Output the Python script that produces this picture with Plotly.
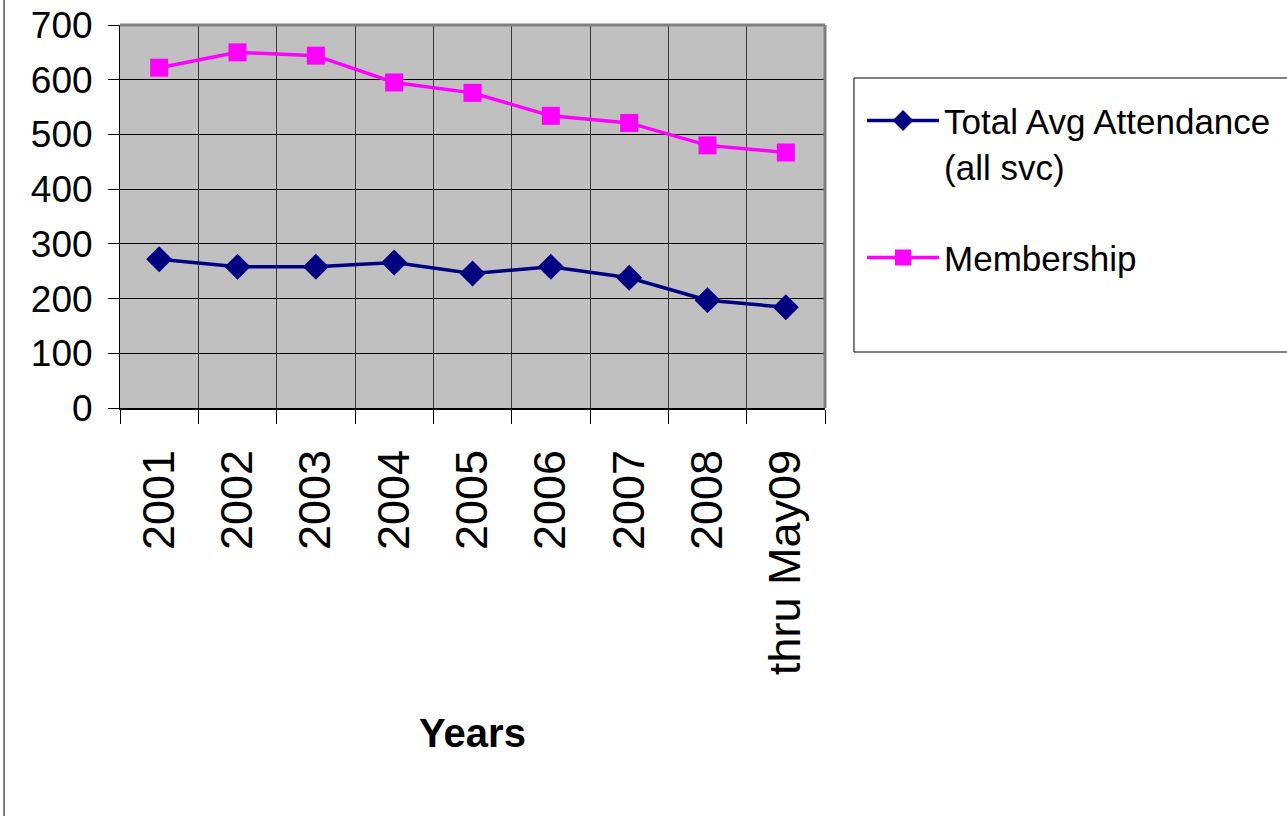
import plotly.graph_objects as go

categories = ["2001", "2002", "2003", "2004", "2005", "2006", "2007", "2008", "thru May09"]
attendance = [272, 258, 258, 266, 246, 258, 238, 197, 184]
membership = [622, 650, 644, 595, 576, 534, 521, 480, 467]
y_ticks = [0, 100, 200, 300, 400, 500, 600, 700]

FONT = "Liberation Sans, Arial, sans-serif"

fig = go.Figure()
fig.add_trace(go.Scatter(
    x=categories, y=attendance, mode="lines+markers",
    name="Total Avg Attendance<br>(all svc)", legendgroup="att",
    line=dict(color="#000080", width=3.5),
    marker=dict(symbol="diamond", size=20, color="#000080"),
))
fig.add_trace(go.Scatter(
    x=categories, y=membership, mode="lines+markers",
    name="Membership", legendgroup="mem",
    line=dict(color="#FF00FF", width=3.5),
    marker=dict(symbol="square", size=18, color="#FF00FF"),
))

fig.update_layout(
    width=1287, height=816,
    margin=dict(l=120, r=462, t=25, b=408, autoexpand=False),
    paper_bgcolor="white",
    plot_bgcolor="#C0C0C0",
    showlegend=True,
    legend=dict(
        x=1.0525, y=0.827, xanchor="left", yanchor="top",
        bgcolor="rgba(0,0,0,0)", borderwidth=0,
        font=dict(family=FONT, size=35, color="black"),
        tracegroupgap=43, itemwidth=72, valign="top",
    ),
    xaxis=dict(
        type="category", range=[-0.5, 8.5], tickson="boundaries",
        showgrid=True, gridcolor="#383838", gridwidth=1,
        ticks="outside", ticklen=14, tickcolor="black",
        tickangle=-90, ticklabelstandoff=22,
        tickfont=dict(family=FONT, size=45, color="black"),
        showline=True, linecolor="black", linewidth=2,
        automargin=False,
        title=dict(text="<b>Years</b>", font=dict(family=FONT, size=40, color="black"), standoff=45),
    ),
    yaxis=dict(
        range=[0, 700], tickvals=y_ticks,
        showgrid=True, gridcolor="black", gridwidth=1,
        ticks="outside", ticklen=11, tickcolor="black",
        ticklabelstandoff=8,
        tickfont=dict(family=FONT, size=37, color="black"),
        showline=True, linecolor="black", linewidth=1,
        zeroline=False, automargin=False,
    ),
    shapes=[
        # legend box
        dict(type="rect", xref="paper", yref="paper", x0=1.0411, x1=1.7, y0=0.1462, y1=0.8616,
             line=dict(color="black", width=1), fillcolor="white", layer="below"),
        # plot-area border (top/right gray)
        dict(type="line", xref="paper", yref="paper", x0=0, x1=1, y0=1, y1=1,
             line=dict(color="#808080", width=3), layer="above"),
        dict(type="line", xref="paper", yref="paper", x0=1, x1=1, y0=0, y1=1,
             line=dict(color="#808080", width=3), layer="above"),
        # chart-area frame on left
        dict(type="line", xref="paper", yref="paper", x0=-0.1645, x1=-0.1645, y0=-2, y1=2,
             line=dict(color="black", width=1)),
    ],
)

fig.write_html("out.html")
